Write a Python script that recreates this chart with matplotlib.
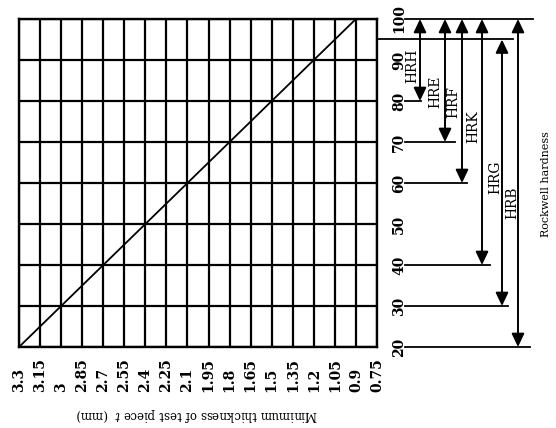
import matplotlib
matplotlib.use("Agg")
import matplotlib.pyplot as plt
from matplotlib.lines import Line2D
from matplotlib import transforms

plt.rcParams["font.family"] = ["DejaVu Serif"]
plt.rcParams["mathtext.fontset"] = "dejavuserif"

# Minimum thickness of the test piece (mm) along the bottom axis
thickness = [3.3, 3.15, 3.0, 2.85, 2.7, 2.55, 2.4, 2.25, 2.1, 1.95,
             1.8, 1.65, 1.5, 1.35, 1.2, 1.05, 0.9, 0.75]
thickness_labels = ["3.3", "3.15", "3", "2.85", "2.7", "2.55", "2.4", "2.25",
                    "2.1", "1.95", "1.8", "1.65", "1.5", "1.35", "1.2", "1.05",
                    "0.9", "0.75"]

# Rockwell hardness scale on the right
hardness = [20, 30, 40, 50, 60, 70, 80, 90, 100]
hardness_labels = ["20", "30", "40", "50", "60", "70", "80", "90", "100"]

# Relation between thickness and hardness
line_thickness = [3.3, 0.9]
line_hardness = [20, 100]

# Applicable hardness range of each Rockwell scale
scales = ["HRH", "HRE", "HRF", "HRK", "HRG", "HRB"]
scale_low = [80, 70, 60, 40, 30, 20]
scale_high = [100, 100, 100, 100, 95, 100]

W, H = 556, 428
fig = plt.figure(figsize=(W / 100, H / 100), dpi=100)
fig.patch.set_facecolor("white")

left_px, right_px, top_px, bottom_px = 19, 377, 19, 347
ax = fig.add_axes([left_px / W, 1 - bottom_px / H,
                   (right_px - left_px) / W, (bottom_px - top_px) / H])

ax.set_xticks(thickness)
ax.set_xticklabels(thickness_labels, rotation=90, va="bottom", ha="center",
                   fontsize=10, fontweight="bold")
ax.tick_params(axis="x", length=0, pad=32.4)

ax.yaxis.tick_right()
ax.set_yticks(hardness)
ax.set_yticklabels(hardness_labels, rotation=90, va="center", ha="left",
                   fontsize=10, fontweight="bold")
ax.tick_params(axis="y", length=0, pad=10.8)

ax.grid(True, color="black", linewidth=1.6)
ax.set_axisbelow(True)
for s in ax.spines.values():
    s.set_linewidth(1.7)
    s.set_color("black")

ax.plot(line_thickness, line_hardness, color="black", linewidth=1.3,
        solid_capstyle="butt")

ax.set_xlim(3.3, 0.75)
ax.set_ylim(20, 100)

# Range arrows to the right of the hardness scale
trans = transforms.blended_transform_factory(fig.transFigure, ax.transData)
arrow_px = [420, 445, 462, 482, 502, 518]
guide_end_px = [421, 455, 467, 490, 508, 530]
label_px = [(412, 66), (435, 92), (453, 102), (473, 127), (495, 177), (512, 203)]

def hline(y, x0_px, x1_px):
    fig.add_artist(Line2D([x0_px / W, x1_px / W], [y, y], transform=trans,
                          color="black", linewidth=1.3))

hline(100, 405, 533)
for name, lo, hi, ax_px, end_px, (lx, ly) in zip(scales, scale_low, scale_high,
                                                  arrow_px, guide_end_px, label_px):
    ax.annotate("", xy=(ax_px / W, lo), xytext=(ax_px / W, hi),
                xycoords=trans, textcoords=trans, annotation_clip=False,
                arrowprops=dict(arrowstyle="<|-|>,head_length=0.8,head_width=0.38",
                                color="black", lw=1.4, mutation_scale=10,
                                shrinkA=0, shrinkB=0))
    hline(lo, 405, end_px)
    if hi < 100:
        hline(hi, right_px + 1, ax_px + 11)
    fig.text(lx / W, 1 - ly / H, name, rotation=90, ha="center", va="center",
             fontsize=10)

fig.text(546 / W, 1 - 184 / H, "Rockwell hardness", rotation=90,
         ha="center", va="center", fontsize=8)

fig.text(197 / W, 1 - 414 / H, "Minimum thickness of test piece $t$  (mm)",
         rotation=180, ha="center", va="center", fontsize=8.5)

fig.savefig("out.png", dpi=100, facecolor="white")
